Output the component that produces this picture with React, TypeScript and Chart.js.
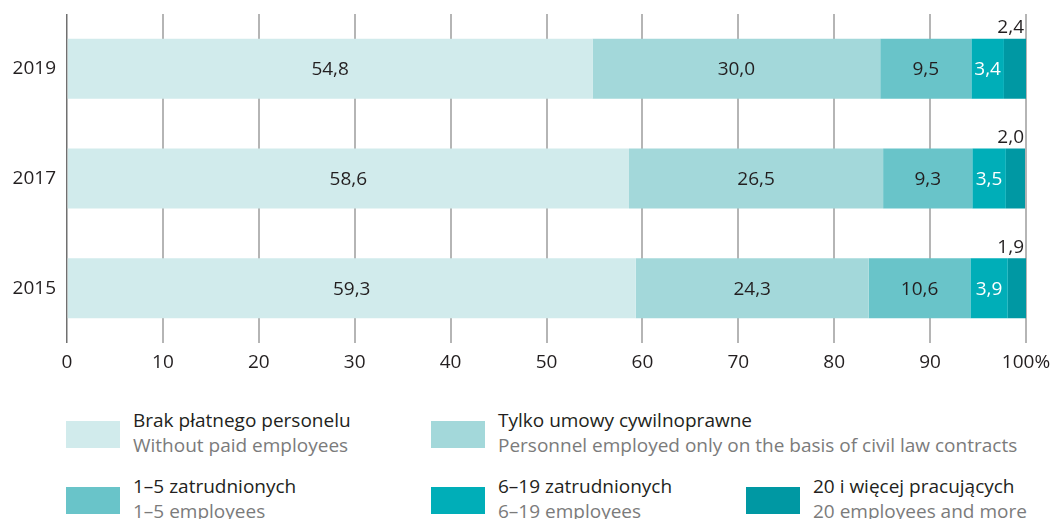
import React, { useEffect, useRef } from "react";
import { Chart, registerables } from "chart.js";

Chart.register(...registerables);

const categories = ["2019", "2017", "2015"];
const noPaid = [54.8, 58.6, 59.3];
const civilOnly = [30.0, 26.5, 24.3];
const emp1to5 = [9.5, 9.3, 10.6];
const emp6to19 = [3.4, 3.5, 3.9];
const emp20plus = [2.4, 2.0, 1.9];
const xTicks = [0, 10, 20, 30, 40, 50, 60, 70, 80, 90, 100];

const seriesNamesPl = [
  "Brak płatnego personelu",
  "Tylko umowy cywilnoprawne",
  "1–5 zatrudnionych",
  "6–19 zatrudnionych",
  "20 i więcej pracujących",
];
const seriesNamesEn = [
  "Without paid employees",
  "Personnel employed only on the basis of civil law contracts",
  "1–5 employees",
  "6–19 employees",
  "20 employees and more",
];
const colors = ["#d1ebec", "#a3d8da", "#69c4c9", "#00aeb8", "#0098a3"];
const labelColors = ["#231f20", "#231f20", "#231f20", "#ffffff", "#231f20"];

const FONT = "'Open Sans', sans-serif";
const fmt = (v: number) => v.toFixed(1).replace(".", ",");

const valueLabels = {
  id: "valueLabels",
  afterDatasetsDraw(chart: any) {
    const ctx = chart.ctx;
    ctx.save();
    ctx.font = `19px ${FONT}`;
    ctx.textBaseline = "middle";
    chart.data.datasets.forEach((ds: any, di: number) => {
      const meta = chart.getDatasetMeta(di);
      meta.data.forEach((bar: any, i: number) => {
        const v = ds.data[i];
        const last = di === chart.data.datasets.length - 1;
        ctx.fillStyle = labelColors[di];
        if (last) {
          ctx.textAlign = "right";
          ctx.fillText(fmt(v), chart.chartArea.right - 2, bar.y - bar.height / 2 - 11);
        } else {
          ctx.textAlign = "center";
          ctx.fillText(fmt(v), (bar.x + bar.base) / 2, bar.y + 1);
        }
      });
    });
    ctx.restore();
  },
};

function ChartView() {
  const ref = useRef<HTMLCanvasElement>(null);
  useEffect(() => {
    const series = [noPaid, civilOnly, emp1to5, emp6to19, emp20plus];
    const chart = new Chart(ref.current!, {
      type: "bar",
      data: {
        labels: categories,
        datasets: series.map((d, i) => ({
          label: seriesNamesPl[i],
          data: d,
          backgroundColor: colors[i],
          borderWidth: 0,
          barPercentage: 0.547,
          categoryPercentage: 1,
        })),
      },
      options: {
        indexAxis: "y",
        animation: false,
        responsive: false,
        layout: { padding: { top: 14, right: 35, left: 0, bottom: 0 } },
        plugins: { legend: { display: false }, tooltip: { enabled: false } },
        scales: {
          x: {
            stacked: true,
            min: 0,
            max: 100,
            afterBuildTicks(scale: any) {
              scale.ticks = xTicks.map((v) => ({ value: v }));
            },
            afterFit(scale: any) {
              scale.height = 40;
            },
            grid: {
              drawTicks: false,
              color: (c: any) => (c.tick && c.tick.value === 0 ? "#707070" : "#b5b5b5"),
              lineWidth: (c: any) => (c.tick && c.tick.value === 0 ? 1.5 : 2),
            },
            border: { display: false },
            ticks: {
              padding: 8,
              maxRotation: 0,
              color: "#231f20",
              font: { family: FONT, size: 19 },
              callback: (v: any) => (v === 100 ? "100%" : String(v)),
            },
          },
          y: {
            stacked: true,
            afterFit(scale: any) {
              scale.width = 67;
              scale.paddingTop = 0;
              scale.paddingBottom = 0;
            },
            grid: { display: false, drawTicks: false },
            border: { display: false },
            ticks: {
              padding: 11,
              color: "#231f20",
              font: { family: FONT, size: 19 },
            },
          },
        },
      },
      plugins: [valueLabels],
    });
    return () => chart.destroy();
  }, []);
  return <canvas ref={ref} width={1061} height={383} style={{ position: "absolute", left: 0, top: 0 }} />;
}

const legendCols = [66, 431, 746];
const legendRows = [421, 487];
const legendLayout = [
  [0, 0],
  [0, 1],
  [1, 0],
  [1, 1],
  [1, 2],
];

export default function App() {
  useEffect(() => {
    document.body.style.margin = "0";
  }, []);
  return (
    <div style={{ position: "relative", width: 1061, height: 519, overflow: "hidden", background: "#fff", fontFamily: FONT }}>
      <ChartView />
      {legendLayout.map(([r, c], i) => (
        <React.Fragment key={i}>
          <div
            style={{
              position: "absolute",
              left: legendCols[c],
              top: legendRows[r],
              width: 54,
              height: 27,
              background: colors[i],
            }}
          />
          <div
            style={{
              position: "absolute",
              left: legendCols[c] + 67,
              top: legendRows[r] - 13,
              fontSize: 19,
              lineHeight: "25px",
              whiteSpace: "nowrap",
            }}
          >
            <div style={{ color: "#231f20" }}>{seriesNamesPl[i]}</div>
            <div style={{ color: "#7b7b7b" }}>{seriesNamesEn[i]}</div>
          </div>
        </React.Fragment>
      ))}
    </div>
  );
}
